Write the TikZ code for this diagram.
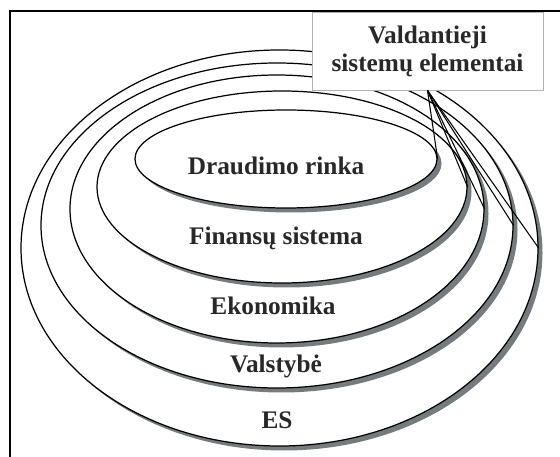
\documentclass[tikz,border=0pt]{standalone}
\usepackage{fontspec}
\setmainfont{Liberation Serif}
\usetikzlibrary{shapes.geometric,shadows}
\definecolor{shade}{RGB}{118,124,126}
\definecolor{ink}{RGB}{40,40,40}
\begin{document}
\begin{tikzpicture}[line width=.7pt]

      \clip (0,0) rectangle (11.2,9.12);
      \draw (0.2,-1) rectangle (12,8.9);

      \begin{scope}[every node/.style={ellipse, draw, fill=white, inner sep=0pt,
          drop shadow={shadow xshift=.09cm, shadow yshift=-.09cm, fill=shade, opacity=1}}]
        \node[minimum width=10.34cm, minimum height=7.92cm] (5) at (5.59,4.16) {};
        \node[minimum width=9.44cm,  minimum height=6.50cm] (4) at (5.54,4.61) {};
        \node[minimum width=8.28cm,  minimum height=5.36cm] (3) at (5.54,4.94) {};
        \node[minimum width=7.40cm,  minimum height=3.84cm] (2) at (5.64,5.38) {};
        \node[minimum width=6.04cm,  minimum height=1.96cm] (1) at (5.72,5.94) {};
      \end{scope}

      \begin{scope}[every node/.style={font=\fontsize{14.4}{15.9}\selectfont\bfseries, text=ink}]
        \node[anchor=base] (l1) at (5.52,5.62) {Draudimo rinka};
        \node[anchor=base] (l2) at (5.52,4.22) {Finansų sistema};
        \node[anchor=base] (l3) at (5.46,2.82) {Ekonomika};
        \node[anchor=base] (l4) at (5.52,1.66) {Valstybė};
        \node[anchor=base] (l5) at (5.54,0.56) {ES};

        \node[draw=black!30, fill=white, line width=.5pt, align=center,
          minimum width=4.62cm, minimum height=1.56cm] (6) at (8.55,8.10)
          {Valdantieji\\sistemų elementai};
      \end{scope}

      \begin{scope}[every edge/.style={draw, line width=.6pt}]
        \path (6.south) edge (1.east);
        \path (6.south) edge (2.east);
        \path (6.south) edge (3.east);
        \path (6.south) edge (4.east);
        \path (6.south) edge (5.east);
      \end{scope}

    \end{tikzpicture}
\end{document}
